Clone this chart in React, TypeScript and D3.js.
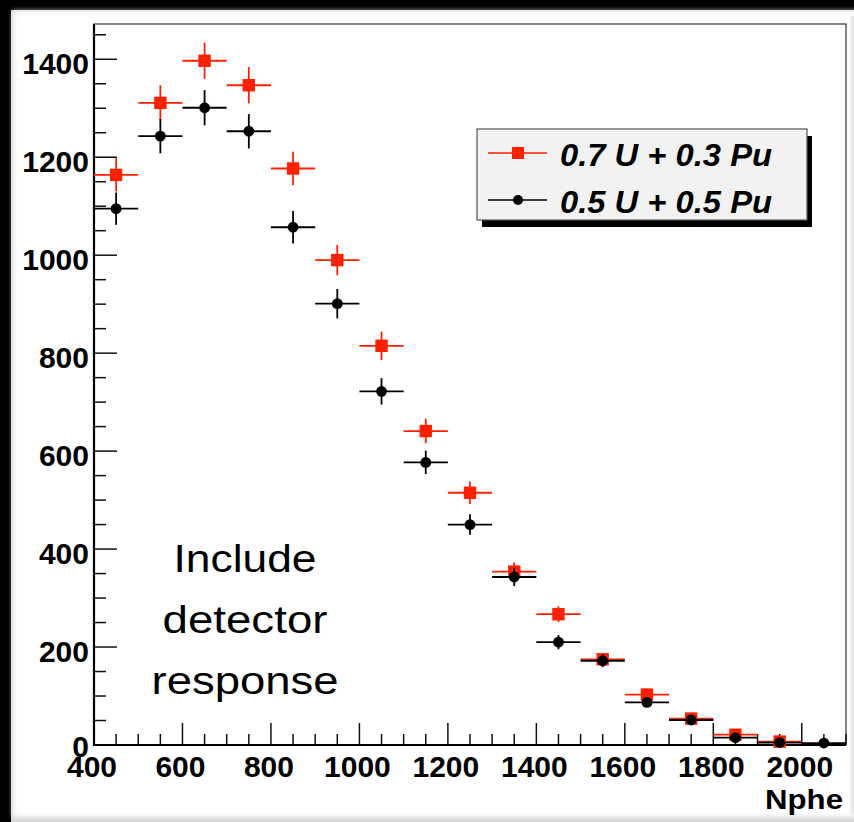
import React from "react";
import * as d3 from "d3";

const binCenters = [450, 550, 650, 750, 850, 950, 1050, 1150, 1250, 1350, 1450, 1550, 1650, 1750, 1850, 1950, 2050];
const redValues: (number | null)[] = [1164, 1311, 1397, 1347, 1177, 990, 815, 641, 515, 354, 267, 175, 103, 54, 21, 7, null];
const redErrors = [34, 36, 37, 37, 34, 31, 29, 25, 23, 19, 16, 13, 10, 7, 4.6, 2.6, 0];
const blackValues: (number | null)[] = [1095, 1243, 1301, 1253, 1057, 901, 722, 577, 450, 343, 210, 172, 87, 51, 15, 5, 4];
const blackErrors = [33, 35, 36, 35, 33, 30, 27, 24, 21, 18.5, 14.5, 13, 9.3, 7, 3.9, 2.2, 2];
const xTickLabels = [400, 600, 800, 1000, 1200, 1400, 1600, 1800, 2000];
const yTickLabels = [0, 200, 400, 600, 800, 1000, 1200, 1400];
const legendLabels = ["0.7 U + 0.3 Pu", "0.5 U + 0.5 Pu"];
const noteLines = ["Include", "detector", "response"];
const xTitle = "Nphe";

const W = 854;
const H = 822;
const L = 94, R = 846, T = 24, B = 745;
const RED = "#ff2000";

export default function App() {
  const x = d3.scaleLinear().domain([400, 2100]).range([L, R]);
  const y = d3.scaleLinear().domain([0, 1472]).range([B, T]);
  const binHalf = 50;

  const xMinor = d3.range(400, 2101, 50);
  const yMinor = d3.range(0, 1451, 50);

  const font = "'Liberation Sans', Arial, Helvetica, sans-serif";

  const series = [
    { values: redValues, errors: redErrors, color: RED, marker: "square" },
    { values: blackValues, errors: blackErrors, color: "#000", marker: "circle" },
  ];

  const noteWidths = [143, 165, 187];

  return (
    <svg width={W} height={H} style={{ position: "absolute", left: 0, top: 0, display: "block" }}>
      <defs>
        <filter id="blur" x="-5%" y="-5%" width="110%" height="110%">
          <feGaussianBlur stdDeviation="2.6" />
        </filter>
        <linearGradient id="rightEdge" x1="0" x2="1" y1="0" y2="0">
          <stop offset="0" stopColor="#ffffff" />
          <stop offset="1" stopColor="#e2e2e2" />
        </linearGradient>
      </defs>
      <rect x={0} y={0} width={W} height={H} fill="#d6d6d6" />
      <rect x={0} y={0} width={W} height={10} fill="#000" />
      <rect x={0} y={0} width={11} height={H} fill="#000" />
      <rect x={13} y={11} width={W} height={806} fill="#fff" filter="url(#blur)" />
      <rect x={848} y={16} width={6} height={798} fill="url(#rightEdge)" />

      {/* frame */}
      <rect x={L} y={T} width={R - L} height={B - T} fill="none" stroke="#333" strokeWidth={1.2} />

      {/* y ticks */}
      {yMinor.map((v) => {
        const major = v % 200 === 0;
        return (
          <line key={"yt" + v} x1={L} x2={L + (major ? 23 : 12)} y1={y(v)} y2={y(v)} stroke="#111" strokeWidth={1.5} />
        );
      })}
      {/* x ticks */}
      {xMinor.map((v) => {
        const major = v % 200 === 0;
        return (
          <line key={"xt" + v} x1={x(v)} x2={x(v)} y1={B} y2={B - (major ? 22 : 11)} stroke="#111" strokeWidth={1.5} />
        );
      })}
      {/* axes */}
      <line x1={L} x2={L} y1={T} y2={B + 1} stroke="#000" strokeWidth={2.2} />
      <line x1={L - 1} x2={R} y1={B} y2={B} stroke="#000" strokeWidth={2.2} />

      {/* y labels */}
      {yTickLabels.map((v) => (
        <text key={"yl" + v} x={89} y={y(v) + (v === 0 ? 12 : 15)} textAnchor="end" fontFamily={font} fontWeight="bold" fontSize={30} fill="#000">
          {v}
        </text>
      ))}
      {/* x labels */}
      {xTickLabels.map((v) => (
        <text key={"xl" + v} x={x(v) - 2} y={777} textAnchor="middle" fontFamily={font} fontWeight="bold" fontSize={30} fill="#000">
          {v}
        </text>
      ))}
      <text x={843} y={809} textAnchor="end" fontFamily={font} fontWeight="bold" fontSize={27} textLength={78} lengthAdjust="spacingAndGlyphs" fill="#000">
        {xTitle}
      </text>

      {/* data */}
      {series.map((s, si) => (
        <g key={"s" + si}>
          {binCenters.map((c, i) => {
            const v = s.values[i];
            if (v === null || v === undefined) return null;
            const e = s.errors[i];
            const cx = x(c);
            const cy = y(v);
            return (
              <g key={"p" + i}>
                <line x1={x(c - binHalf)} x2={x(c + binHalf)} y1={cy} y2={cy} stroke={s.color} strokeWidth={1.8} />
                {e > 0 && (
                  <line x1={cx} x2={cx} y1={y(v + e)} y2={y(Math.max(0, v - e))} stroke={s.color} strokeWidth={1.8} />
                )}
                {s.marker === "square" ? (
                  <rect x={cx - 6.2} y={cy - 6.2} width={12.4} height={12.4} fill={s.color} />
                ) : (
                  <circle cx={cx} cy={cy} r={5.4} fill={s.color} />
                )}
              </g>
            );
          })}
        </g>
      ))}

      {/* note text */}
      {noteLines.map((t, i) => (
        <text key={"n" + i} x={245} y={572 + i * 61} textAnchor="middle" fontFamily={font} fontSize={38} textLength={noteWidths[i]} lengthAdjust="spacingAndGlyphs" fill="#000">
          {t}
        </text>
      ))}

      {/* legend */}
      <rect x={482} y={136} width={330} height={91} fill="#000" />
      <rect x={477} y={129} width={330} height={91} fill="#f2f2f2" stroke="#555" strokeWidth={1.2} />
      {legendLabels.map((lab, i) => {
        const ly = 153 + i * 47;
        const s = series[i];
        return (
          <g key={"lg" + i}>
            <line x1={488} x2={547} y1={ly} y2={ly} stroke={s.color} strokeWidth={1.6} />
            {s.marker === "square" ? (
              <rect x={518 - 6} y={ly - 6} width={12} height={12} fill={s.color} />
            ) : (
              <circle cx={518} cy={ly} r={5} fill={s.color} />
            )}
            <text x={560} y={ly + 13} fontFamily={font} fontWeight="bold" fontStyle="italic" fontSize={31} textLength={212} lengthAdjust="spacingAndGlyphs" fill="#000">
              {lab}
            </text>
          </g>
        );
      })}
    </svg>
  );
}
